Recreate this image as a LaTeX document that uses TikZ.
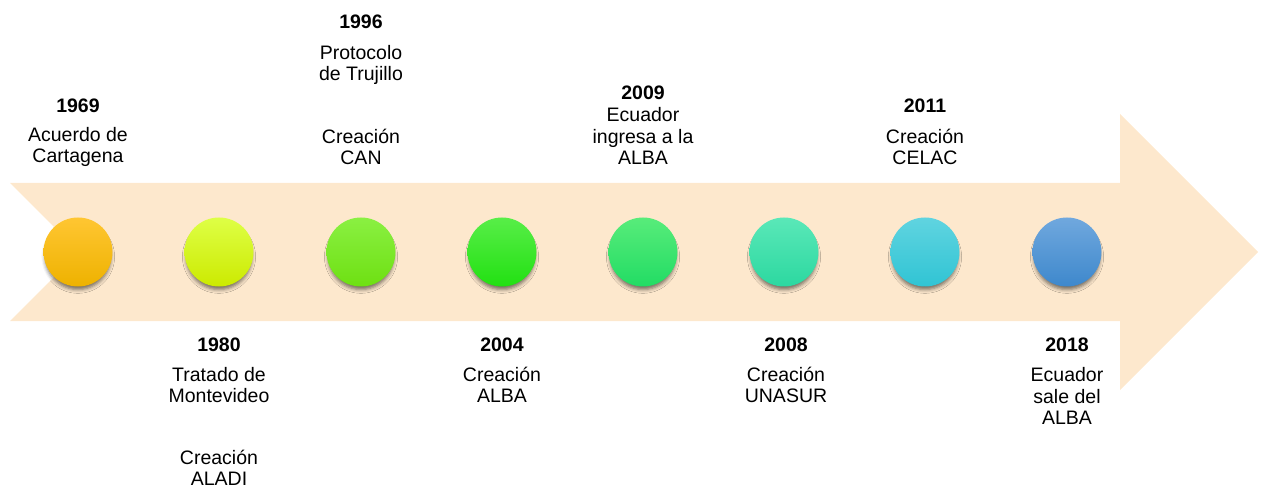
\documentclass[tikz,border=0pt]{standalone}
\usepackage{fontspec}
\setmainfont{Liberation Sans}
\usetikzlibrary{shadows.blur}
\definecolor{band}{RGB}{253,232,205}
\definecolor{orangeT}{RGB}{255,198,50}
\definecolor{orangeB}{RGB}{238,178,0}
\definecolor{limeT}{RGB}{222,255,70}
\definecolor{limeB}{RGB}{204,234,0}
\definecolor{lgreenT}{RGB}{138,240,66}
\definecolor{lgreenB}{RGB}{110,224,18}
\definecolor{greenT}{RGB}{88,238,72}
\definecolor{greenB}{RGB}{34,224,18}
\definecolor{mintT}{RGB}{88,236,122}
\definecolor{mintB}{RGB}{34,220,100}
\definecolor{aquaT}{RGB}{90,232,184}
\definecolor{aquaB}{RGB}{44,216,160}
\definecolor{cyanT}{RGB}{96,212,224}
\definecolor{cyanB}{RGB}{48,196,212}
\definecolor{blueT}{RGB}{112,168,222}
\definecolor{blueB}{RGB}{62,136,204}
\begin{document}
\begin{tikzpicture}[x=1pt, y=-1pt,
    every node/.style={font=\fontsize{19.5}{21.5}\selectfont, inner sep=0pt},
    year/.style={font=\fontsize{19.5}{21.5}\selectfont\bfseries},
    desc/.style={align=center},
    dot/.style={circle, minimum size=69pt,
      blur shadow={shadow xshift=0pt, shadow yshift=-5pt, shadow scale=0.95, shadow blur radius=4pt, shadow opacity=55}}]
    \useasboundingbox (0,0) rectangle (1264,489);
    % band with arrow head
    \fill [band] (10,183) -- (1120,183) -- (1120,114) -- (1258,252) -- (1120,390) -- (1120,321) -- (10,321) -- (79,252) -- cycle;
    % milestones
    \node [dot, top color=orangeT, bottom color=orangeB] (c1969) at (78,252) {};
    \node [dot, top color=limeT, bottom color=limeB] (c1980) at (219,252) {};
    \node [dot, top color=lgreenT, bottom color=lgreenB] (c1996) at (361,252) {};
    \node [dot, top color=greenT, bottom color=greenB] (c2004) at (502,252) {};
    \node [dot, top color=mintT, bottom color=mintB] (c2009) at (643,252) {};
    \node [dot, top color=aquaT, bottom color=aquaB] (c2008) at (784,252) {};
    \node [dot, top color=cyanT, bottom color=cyanB] (c2011) at (925,252) {};
    \node [dot, top color=blueT, bottom color=blueB] (c2018) at (1067,252) {};
    % labels above
    \node [year] (y1969) at (78,106) {1969};
    \node [desc] (d1969) at (78,147) {Acuerdo de\\Cartagena};
    \node [year] (y1996) at (361,22) {1996};
    \node [desc] (d1996a) at (361,65) {Protocolo\\de Trujillo};
    \node [desc] (d1996b) at (361,147) {Creación\\CAN};
    \node [year] (y2009) at (643,93) {2009};
    \node [desc] (d2009) at (643,136) {Ecuador\\ingresa a la\\ALBA};
    \node [year] (y2011) at (925,106) {2011};
    \node [desc] (d2011) at (925,147) {Creación\\CELAC};
    % labels below
    \node [year] (y1980) at (219,345) {1980};
    \node [desc] (d1980a) at (219,385) {Tratado de\\Montevideo};
    \node [desc] (d1980b) at (219,468) {Creación\\ALADI};
    \node [year] (y2004) at (502,345) {2004};
    \node [desc] (d2004) at (502,385) {Creación\\ALBA};
    \node [year] (y2008) at (786,345) {2008};
    \node [desc] (d2008) at (786,385) {Creación\\UNASUR};
    \node [year] (y2018) at (1067,345) {2018};
    \node [desc] (d2018) at (1067,396) {Ecuador\\sale del\\ALBA};
\end{tikzpicture}
\end{document}
